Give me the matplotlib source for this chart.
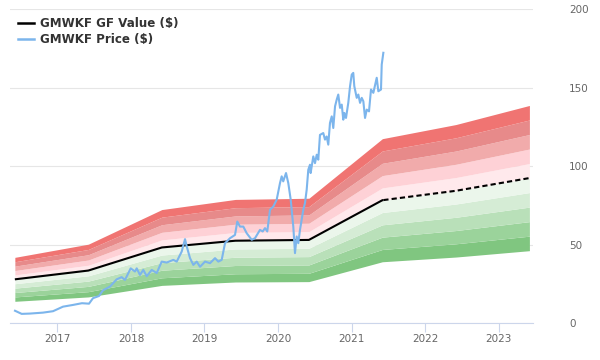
import matplotlib
matplotlib.use("Agg")
import matplotlib.pyplot as plt
from matplotlib.lines import Line2D
import numpy as np

# ---------------- data ----------------
gf_dates = [2016.42, 2017.42, 2018.42, 2019.42, 2020.42, 2021.42, 2022.42, 2023.42]
gf_values = [28.0, 33.6, 48.3, 52.6, 53.1, 78.4, 84.4, 92.5]

price_dates = [
    2016.422, 2016.513, 2016.626, 2016.803, 2016.939, 2017.075, 2017.211, 2017.333,
    2017.429, 2017.483, 2017.565, 2017.619, 2017.714, 2017.805, 2017.873, 2017.918,
    2017.996, 2018.054, 2018.078, 2018.122, 2018.167, 2018.214, 2018.282, 2018.350,
    2018.418, 2018.486, 2018.576, 2018.622, 2018.690, 2018.735, 2018.758, 2018.803,
    2018.848, 2018.894, 2018.939, 2019.007, 2019.075, 2019.143, 2019.188, 2019.234,
    2019.279, 2019.347, 2019.415, 2019.446, 2019.483, 2019.528, 2019.574, 2019.642,
    2019.687, 2019.755, 2019.792, 2019.823, 2019.854, 2019.891, 2019.936, 2019.982,
    2020.027, 2020.050, 2020.071, 2020.109, 2020.140, 2020.173, 2020.208, 2020.231,
    2020.254, 2020.276, 2020.299, 2020.344, 2020.367, 2020.390, 2020.412, 2020.435,
    2020.444, 2020.480, 2020.503, 2020.527, 2020.548, 2020.571, 2020.616, 2020.639,
    2020.662, 2020.684, 2020.707, 2020.731, 2020.752, 2020.776, 2020.799, 2020.820,
    2020.844, 2020.867, 2020.888, 2020.902, 2020.925, 2020.956, 2020.980, 2021.003,
    2021.024, 2021.038, 2021.071, 2021.093, 2021.116, 2021.139, 2021.161, 2021.184,
    2021.207, 2021.238, 2021.265, 2021.297, 2021.343, 2021.365, 2021.401, 2021.411,
    2021.433,
]
price_values = [
    8.0, 6.0, 6.2, 6.8, 7.7, 10.6, 11.7, 12.8,
    12.5, 16.0, 17.4, 21.0, 23.4, 28.0, 29.4, 27.6,
    35.0, 33.0, 35.0, 30.8, 34.0, 30.0, 34.0, 32.0,
    39.3, 38.7, 40.4, 39.3, 45.7, 53.6, 49.0, 41.5,
    37.2, 39.3, 36.0, 39.3, 38.3, 41.5, 39.3, 40.4,
    51.0, 54.2, 56.3, 64.8, 61.6, 61.6, 57.4, 53.2,
    54.2, 59.5, 58.5, 60.6, 58.5, 72.3, 74.4, 78.7,
    89.3, 93.6, 90.4, 95.7, 89.3, 78.7, 61.6, 44.7,
    55.3, 51.0, 59.5, 72.3, 76.6, 85.0, 97.8, 101.0,
    95.7, 106.3, 102.0, 107.4, 104.2, 120.0, 121.2, 117.0,
    119.0, 113.8, 127.6, 131.8, 124.4, 138.2, 142.5, 145.7,
    137.2, 139.3, 129.7, 134.0, 130.8, 140.4, 151.0, 158.4,
    159.5, 151.0, 143.6, 145.7, 140.4, 143.6, 141.4, 130.8,
    136.1, 135.0, 148.9, 146.8, 156.4, 147.8, 148.9, 164.8,
    172.3,
]

band_levels = [0.5, 0.6, 0.7, 0.8, 0.9, 1.0, 1.1, 1.2, 1.3, 1.4, 1.5]
band_colors = ["#80c680", "#9bd39b", "#b9e0b9", "#d5ecd5", "#ebf6eb",
               "#ffe9ec", "#fed1d6", "#f1abab", "#e78a8a", "#f07472"]

x_ticks = [2017, 2018, 2019, 2020, 2021, 2022, 2023]
y_ticks = [0, 50, 100, 150, 200]
legend_labels = ["GMWKF GF Value ($)", "GMWKF Price ($)"]

# ---------------- figure ----------------
fig = plt.figure(figsize=(6, 3.6), dpi=100)
ax = fig.add_axes([10 / 600, 36.7 / 360, 523 / 600, 314 / 360])

gd = np.array(gf_dates)
gv = np.array(gf_values)
for i in range(len(band_levels) - 1):
    ax.fill_between(gd, gv * band_levels[i], gv * band_levels[i + 1],
                    color=band_colors[i], linewidth=0, zorder=1)

# GF value line: solid through price history, dashed afterwards
split = price_dates[-1]
solid_x = np.concatenate([gd[gd < split], [split]])
solid_y = np.interp(solid_x, gd, gv)
dash_x = np.concatenate([[split], gd[gd > split]])
dash_y = np.interp(dash_x, gd, gv)
ax.plot(solid_x, solid_y, color="black", lw=1.5, zorder=3, solid_capstyle="butt")
ax.plot(dash_x, dash_y, color="black", lw=1.5, zorder=3, linestyle=(0, (2.5, 1.5)))

ax.plot(price_dates, price_values, color="#7cb5ec", lw=1.5, zorder=4,
        solid_joinstyle="round")

ax.set_xlim(2016.354, 2023.469)
ax.set_ylim(0, 200)

ax.set_xticks(x_ticks)
ax.set_xticklabels([str(t) for t in x_ticks])
ax.set_yticks(y_ticks)
ax.yaxis.tick_right()
ax.tick_params(axis="y", length=0, pad=26, labelsize=7.5, labelcolor="#666666")
ax.tick_params(axis="x", length=6.5, width=0.8, color="#ccd6eb", pad=1,
               labelsize=7.5, labelcolor="#666666", direction="out")

ax.grid(axis="y", color="#e6e6e6", lw=0.8, zorder=0)
ax.set_axisbelow(True)
for s in ["top", "left", "right"]:
    ax.spines[s].set_visible(False)
ax.spines["bottom"].set_color("#ccd6eb")
ax.spines["bottom"].set_linewidth(0.8)

handles = [Line2D([], [], color="black", lw=1.8),
           Line2D([], [], color="#7cb5ec", lw=1.8)]
leg = fig.legend(handles, legend_labels, loc="upper left",
                 bbox_to_anchor=(18 / 600, 1 - 17 / 360),
                 frameon=False, borderpad=0, borderaxespad=0,
                 handlelength=1.3, handletextpad=0.5, labelspacing=0.25,
                 prop={"weight": "bold", "size": 8.6})
for t in leg.get_texts():
    t.set_color("#333333")

fig.savefig("out.png", dpi=100)
